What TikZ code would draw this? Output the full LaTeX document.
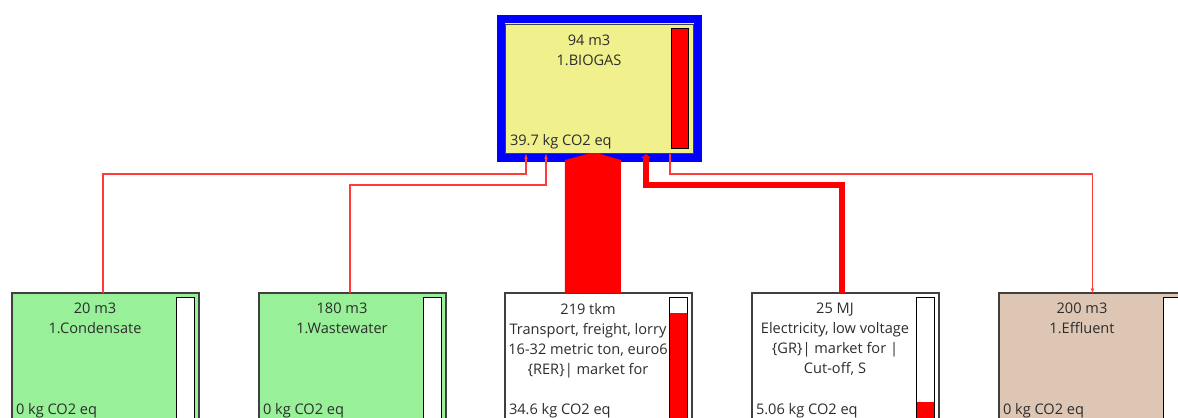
\documentclass[tikz,border=0pt]{standalone}
\usepackage{fontspec}
\setmainfont{Open Sans}
\usetikzlibrary{positioning,arrows.meta,calc}
\definecolor{bioyellow}{RGB}{240,240,140}
\definecolor{wetgreen}{RGB}{152,240,152}
\definecolor{efftan}{RGB}{222,198,180}
\definecolor{boxgray}{RGB}{64,64,64}
\definecolor{txtgray}{RGB}{45,45,45}
\definecolor{thinred}{RGB}{255,60,60}
\newcommand{\netfont}{\fontsize{8.3}{11.4}\selectfont}

\begin{document}
\begin{tikzpicture}[x=0.02cm, y=-0.02cm,
  every node/.style={font=\netfont, text=txtgray, inner sep=0pt, outer sep=0pt},
  procbox/.style={rectangle, draw=boxgray, line width=0.03cm, anchor=north west, minimum width=3.74cm, minimum height=3cm},
  topbox/.style={rectangle, draw=blue, line width=0.16cm, fill=bioyellow, anchor=north west, minimum width=3.94cm, minimum height=2.78cm},
  proclabel/.style={align=center, anchor=north},
  co2label/.style={anchor=west},
  bar/.style={draw=black, line width=0.02cm},
  thinflow/.style={draw=thinred, line width=0.025cm, -{Stealth[length=0.1cm,width=0.07cm]}},
  thickflow/.style={draw=red, line width=0.12cm, -{Triangle[length=0.08cm,width=0.2cm]}}
]
  \useasboundingbox (0,0) rectangle (1178,417);
  \clip (0,0) rectangle (1178,417);

  \node[topbox] (bio) at (501,19) {};
  \node[procbox, fill=wetgreen] (cond) at (12,293) {};
  \node[procbox, fill=wetgreen] (ww) at (259,293) {};
  \node[procbox, fill=white] (tr) at (505,293) {};
  \node[procbox, fill=white] (el) at (752,293) {};
  \node[procbox, fill=efftan] (eff) at (999,293) {};

  \draw[boxgray, line width=0.02cm] ([shift={(4,5)}]bio.north west) rectangle ([shift={(-4,-4)}]bio.south east);
  \draw[bar, fill=red] ([shift={(-26,9)}]bio.north east) rectangle ([shift={(-9,-9)}]bio.south east);

  \foreach \n/\lvl in {cond/130,ww/130,tr/20,el/109,eff/130} {
    \fill[white] ([shift={(-22,4)}]\n.north east) rectangle ([shift={(-4,130)}]\n.north east);
    \fill[red] ([shift={(-22,\lvl)}]\n.north east) rectangle ([shift={(-4,130)}]\n.north east);
    \draw[bar] ([shift={(-22,4)}]\n.north east) rectangle ([shift={(-4,130)}]\n.north east);
  }

  \node[proclabel] (biotxt) at ([shift={(88,16)}]bio.north west) {94 m3\\1.BIOGAS};
  \node[co2label] (bioco2) at ([shift={(9,123)}]bio.north west) {39.7 kg CO2 eq};

  \node[proclabel] (condtxt) at ([shift={(83,10)}]cond.north west) {20 m3\\1.Condensate};
  \node[proclabel] (wwtxt) at ([shift={(83,10)}]ww.north west) {180 m3\\1.Wastewater};
  \node[proclabel] (trtxt) at ([shift={(83,10)}]tr.north west) {219 tkm\\Transport, freight, lorry\\16-32 metric ton, euro6\\\{RER\}| market for};
  \node[proclabel] (eltxt) at ([shift={(83,10)}]el.north west) {25 MJ\\Electricity, low voltage\\\{GR\}| market for |\\Cut-off, S};
  \node[proclabel] (efftxt) at ([shift={(83,10)}]eff.north west) {200 m3\\1.Effluent};

  \node[co2label] (condco2) at ([shift={(4,118)}]cond.north west) {0 kg CO2 eq};
  \node[co2label] (wwco2) at ([shift={(4,118)}]ww.north west) {0 kg CO2 eq};
  \node[co2label] (trco2) at ([shift={(4,118)}]tr.north west) {34.6 kg CO2 eq};
  \node[co2label] (elco2) at ([shift={(4,118)}]el.north west) {5.06 kg CO2 eq};
  \node[co2label] (effco2) at ([shift={(4,118)}]eff.north west) {0 kg CO2 eq};

  \draw[thinflow] ([xshift=-0.05cm]cond.north) |- ($(bio.south west)+(25,16)$) -- ([shift={(25,-4)}]bio.south west);
  \draw[thinflow] ([xshift=-0.05cm]ww.north) |- ($(bio.south west)+(45,27)$) -- ([shift={(45,-4)}]bio.south west);
  \fill[red] ($(tr.north)+(-33.5,0)$) -- ++(0,-133) -- ++(26,-7) -- ++(6,0) -- ++(24,7) -- ++(0,133) -- cycle;
  \draw[thickflow] ([xshift=-0.07cm]el.north) |- ($(bio.south west)+(145,27)$) -- ([shift={(145,-4)}]bio.south west);
  \draw[thinflow] ([shift={(-28,-4)}]bio.south east) |- ($(eff.north)+(0,-119)$) -- (eff.north);
\end{tikzpicture}
\end{document}
